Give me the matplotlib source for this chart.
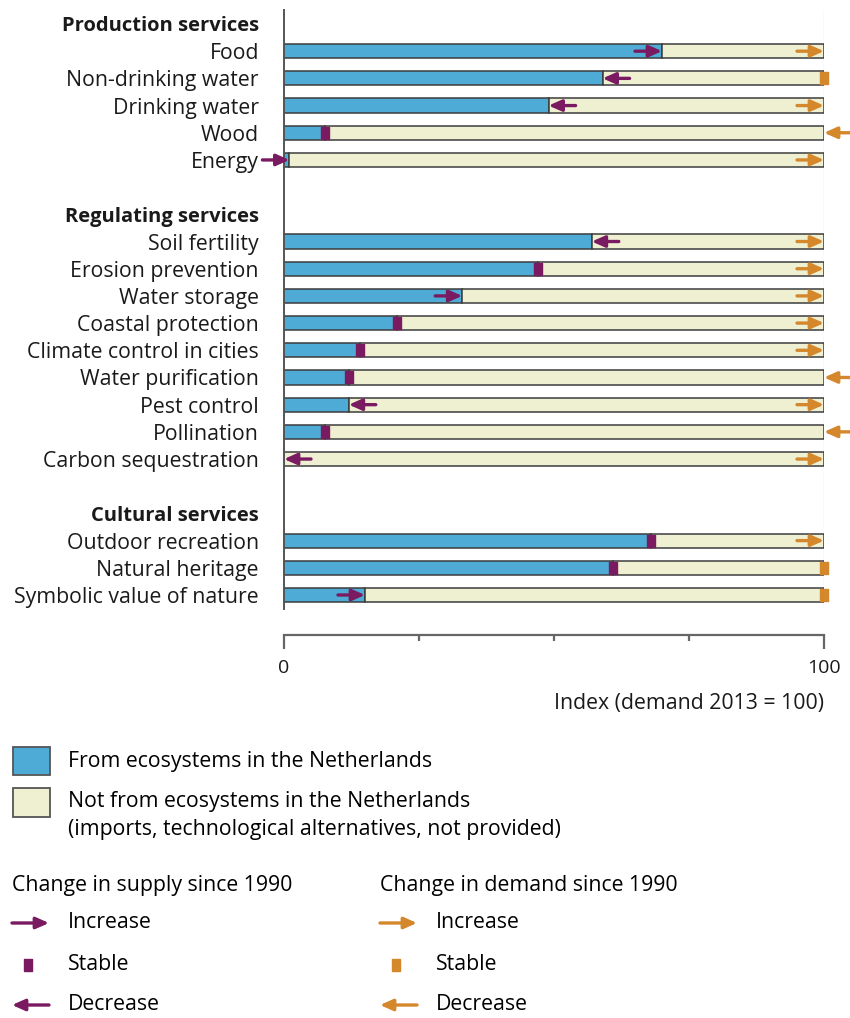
import matplotlib.pyplot as plt
from matplotlib.patches import Rectangle

plt.rcParams['font.family'] = ['Open Sans', 'DejaVu Sans']

# ecosystem services, grouped
group_names = ['Production services', 'Regulating services', 'Cultural services']
group_sizes = [5, 9, 3]
services = ['Food', 'Non-drinking water', 'Drinking water', 'Wood', 'Energy',
            'Soil fertility', 'Erosion prevention', 'Water storage', 'Coastal protection',
            'Climate control in cities', 'Water purification', 'Pest control',
            'Pollination', 'Carbon sequestration',
            'Outdoor recreation', 'Natural heritage', 'Symbolic value of nature']
# share of demand supplied by Dutch ecosystems (demand 2013 = 100)
supply_nl = [70, 59, 49, 7.5, 1,
             57, 47, 33, 21, 14, 12, 12, 7.5, 0,
             68, 61, 15]
demand = 100
# change since 1990
supply_trend = ['up', 'down', 'down', 'stable', 'up',
                'down', 'stable', 'up', 'stable', 'stable', 'stable', 'down', 'stable', 'down',
                'stable', 'stable', 'up']
demand_trend = ['up', 'stable', 'up', 'down', 'up',
                'up', 'up', 'up', 'up', 'up', 'down', 'up', 'down', 'up',
                'up', 'stable', 'stable']

blue = '#4eabd6'
beige = '#eff0d2'
edge = '#3c3c3c'
purple = '#7a1a60'
orange = '#d4872b'
box = [(-0.35, -0.5), (0.35, -0.5), (0.35, 0.5), (-0.35, 0.5), (-0.35, -0.5)]
alen = 5  # arrow length in index units
fs = 15.3


def arrow(ax, head, tail, y, color, ms=17):
    ax.annotate('', xy=(head, y), xytext=(tail, y), annotation_clip=False,
                arrowprops=dict(arrowstyle='-|>,head_length=0.45,head_width=0.2',
                                color=color, lw=2.4, shrinkA=0, shrinkB=0,
                                mutation_scale=ms))


# row positions: header, members, blank line
ypos, header_y = [], []
row = 0
for name, n in zip(group_names, group_sizes):
    header_y.append(row)
    ypos += list(range(row + 1, row + 1 + n))
    row += n + 2

fig = plt.figure(figsize=(8.5, 10.18), dpi=100)
ax = fig.add_axes([284 / 850, 1 - 608.6 / 1018, 540 / 850, 598.2 / 1018])

ax.axvline(demand, color='#e2e2e2', lw=1, zorder=0)
ax.barh(ypos, supply_nl, height=0.52, color=blue, edgecolor=edge, lw=1.1, zorder=2)
ax.barh(ypos, [demand - v for v in supply_nl], left=supply_nl, height=0.52,
        color=beige, edgecolor=edge, lw=1.1, zorder=2)

for y, v, st, dt in zip(ypos, supply_nl, supply_trend, demand_trend):
    if st == 'up':
        arrow(ax, v, v - alen, y, purple)
    elif st == 'down':
        arrow(ax, v, v + alen, y, purple)
    else:
        ax.plot(v, y, marker=box, ms=8.5, color=purple, zorder=4, clip_on=False)
    if dt == 'up':
        arrow(ax, demand, demand - alen, y, orange)
    elif dt == 'down':
        arrow(ax, demand, demand + alen, y, orange)
    else:
        ax.plot(demand, y, marker=box, ms=8.5, color=orange, zorder=4, clip_on=False)

ax.set_xlim(0, 100)
ax.set_ylim(21.5, -0.5)

ticks = header_y + ypos
labels = group_names + services
ax.set_yticks(ticks, labels)
ax.tick_params(axis='y', length=0, pad=18, labelsize=fs, labelcolor='#1a1a1a')
for t in ax.get_yticklabels()[:len(group_names)]:
    t.set_fontweight('bold')
    t.set_fontsize(14.5)

for s in ['top', 'right']:
    ax.spines[s].set_visible(False)
ax.spines['left'].set_color('#555555')
ax.spines['left'].set_linewidth(1.4)
ax.spines['bottom'].set_position(('outward', 19))
ax.spines['bottom'].set_bounds(0, 100)
ax.spines['bottom'].set_color('#666666')
ax.spines['bottom'].set_linewidth(1.6)
ax.set_xticks([0, 100])
ax.set_xticks([25, 50, 75], minor=True)
ax.tick_params(axis='x', which='major', length=10, width=1.6, color='#666666',
               pad=7, labelsize=14, labelcolor='#1a1a1a')
ax.tick_params(axis='x', which='minor', length=4, width=1.6, color='#666666')
ax.set_xlabel('Index (demand 2013 = 100)', loc='right', fontsize=fs,
              color='#1a1a1a', labelpad=12)

# legend, laid out in pixel units
lax = fig.add_axes([0, 0, 1, 1])
lax.set_xlim(0, 850)
lax.set_ylim(1018, 0)
lax.axis('off')
lax.add_patch(Rectangle((13, 747), 37, 28, fc=blue, ec='#555555', lw=1.3))
lax.add_patch(Rectangle((13, 788), 37, 29, fc=beige, ec='#555555', lw=1.3))
lax.text(68, 761, 'From ecosystems in the Netherlands', va='center', fontsize=fs)
lax.text(68, 802, 'Not from ecosystems in the Netherlands', va='center', fontsize=fs)
lax.text(68, 830, '(imports, technological alternatives, not provided)', va='center', fontsize=fs)

for x0, title, col in [(12, 'Change in supply since 1990', purple),
                       (380, 'Change in demand since 1990', orange)]:
    lax.text(x0, 885, title, va='center', fontsize=fs)
    arrow(lax, x0 + 37, x0, 923, col)
    lax.plot(x0 + 16, 965, marker=box, ms=8.5, color=col)
    arrow(lax, x0, x0 + 37, 1005, col)
    for yy, lab in [(923, 'Increase'), (965, 'Stable'), (1005, 'Decrease')]:
        lax.text(x0 + 56, yy, lab, va='center', fontsize=fs)

fig.savefig('out.png', dpi=100)
